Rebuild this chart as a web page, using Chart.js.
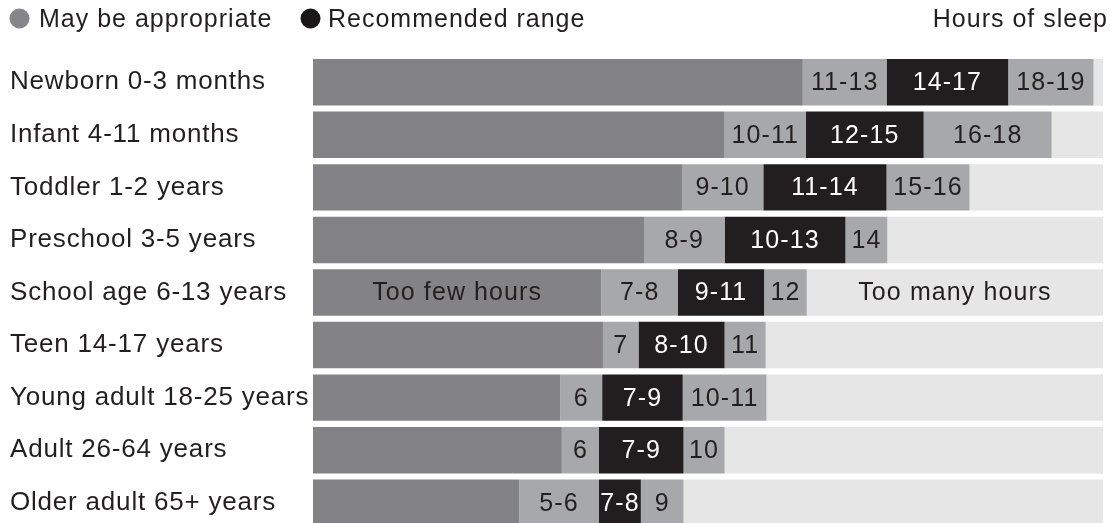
<!DOCTYPE html>
<html>
<head>
<meta charset="utf-8">
<script src="https://cdn.jsdelivr.net/npm/chart.js@4/dist/chart.umd.min.js"></script>
<style>
  html, body { margin: 0; padding: 0; background: #fff; overflow: hidden; }
  #wrap { position: relative; width: 1114px; height: 529px; }
</style>
</head>
<body>
<div id="wrap"><canvas id="grafica"></canvas></div>
<script>
// categorias (grupos de edad)
const categorias = ['Newborn 0-3 months', 'Infant 4-11 months', 'Toddler 1-2 years', 'Preschool 3-5 years',
  'School age 6-13 years', 'Teen 14-17 years', 'Young adult 18-25 years', 'Adult 26-64 years', 'Older adult 65+ years'];

// largo de cada tramo, en % del ancho de la barra
const tooFew   = [62.0, 52.1, 46.7, 41.9, 36.5, 36.7, 31.3, 31.5, 26.1];
const apropBajo = [10.6, 10.3, 10.3, 10.2, 9.7, 4.5, 5.3, 4.7, 10.1];
const recomendado = [15.4, 14.9, 15.6, 15.3, 10.9, 10.9, 10.2, 10.7, 5.3];
const apropAlto = [10.8, 16.2, 10.5, 5.3, 5.4, 5.2, 10.6, 5.2, 5.4];
const tooMany  = [1.2, 6.5, 16.9, 27.3, 37.5, 42.7, 42.6, 47.9, 53.1];

// textos dentro de las barras
const txtTooFew = ['', '', '', '', 'Too few hours', '', '', '', ''];
const txtBajo = ['11-13', '10-11', '9-10', '8-9', '7-8', '7', '6', '6', '5-6'];
const txtRecomendado = ['14-17', '12-15', '11-14', '10-13', '9-11', '8-10', '7-9', '7-9', '7-8'];
const txtAlto = ['18-19', '16-18', '15-16', '14', '12', '11', '10-11', '10', '9'];
const txtTooMany = ['', '', '', '', 'Too many hours', '', '', '', ''];

const FUENTE = '"Liberation Sans", Arial, Helvetica, sans-serif';
const TEXTO = '#231f20';

const etiquetasPlugin = {
  id: 'etiquetas',
  beforeDraw(chart) {
    chart.ctx.letterSpacing = '0.8px'; // el texto original es algo mas ancho
  },
  afterDatasetsDraw(chart) {
    const ctx = chart.ctx;
    ctx.save();
    ctx.font = '25px ' + FUENTE;
    ctx.letterSpacing = '1.1px';
    ctx.textAlign = 'center';
    ctx.textBaseline = 'middle';
    chart.data.datasets.forEach((ds, i) => {
      const meta = chart.getDatasetMeta(i);
      meta.data.forEach((bar, j) => {
        const t = ds.textos[j];
        if (!t) return;
        ctx.fillStyle = ds.colorTexto;
        ctx.fillText(t, (bar.x + bar.base) / 2, bar.y + 1);
      });
    });
    ctx.restore();
  }
};

const leyendaPlugin = {
  id: 'leyenda',
  afterDraw(chart) {
    const ctx = chart.ctx;
    ctx.save();
    ctx.font = '25px ' + FUENTE;
    ctx.letterSpacing = '1px';
    ctx.textBaseline = 'alphabetic';
    ctx.fillStyle = '#86868a';
    ctx.beginPath(); ctx.arc(19.5, 18.5, 10, 0, Math.PI * 2); ctx.fill();
    ctx.fillStyle = '#1a1718';
    ctx.beginPath(); ctx.arc(310.5, 18.5, 10, 0, Math.PI * 2); ctx.fill();
    ctx.fillStyle = TEXTO;
    ctx.textAlign = 'left';
    ctx.fillText('May be appropriate', 39, 27);
    ctx.fillText('Recommended range', 328, 27);
    ctx.textAlign = 'right';
    ctx.fillText('Hours of sleep', 1108, 27);
    ctx.restore();
    ctx.letterSpacing = '0px';
  }
};

const ctx = document.getElementById('grafica').getContext('2d');
const grafica = new Chart(ctx, {
  type: 'bar',
  data: {
    labels: categorias,
    datasets: [
      { label: 'Too few hours', data: tooFew, backgroundColor: '#838387', textos: txtTooFew, colorTexto: TEXTO },
      { label: 'May be appropriate', data: apropBajo, backgroundColor: '#a7a8ab', textos: txtBajo, colorTexto: TEXTO },
      { label: 'Recommended range', data: recomendado, backgroundColor: '#221e1f', textos: txtRecomendado, colorTexto: '#ffffff' },
      { label: 'May be appropriate', data: apropAlto, backgroundColor: '#a7a8ab', textos: txtAlto, colorTexto: TEXTO },
      { label: 'Too many hours', data: tooMany, backgroundColor: '#e6e6e7', textos: txtTooMany, colorTexto: TEXTO }
    ]
  },
  options: {
    indexAxis: 'y',
    responsive: true,
    maintainAspectRatio: false,
    animation: false,
    barPercentage: 0.884,
    categoryPercentage: 1,
    layout: { padding: { left: 10, top: 56, right: 11, bottom: 0 } },
    plugins: { legend: { display: false }, tooltip: { enabled: false } },
    scales: {
      x: { stacked: true, min: 0, max: 100, display: false },
      y: {
        stacked: true,
        grid: { display: false },
        border: { display: false },
        ticks: { crossAlign: 'far', color: TEXTO, font: { size: 26, family: FUENTE }, padding: 0 },
        afterFit(scale) {
          scale.width = 303;
          scale.paddingTop = 0;
          scale.paddingBottom = 0;
        }
      }
    }
  },
  plugins: [etiquetasPlugin, leyendaPlugin]
});
</script>
</body>
</html>
